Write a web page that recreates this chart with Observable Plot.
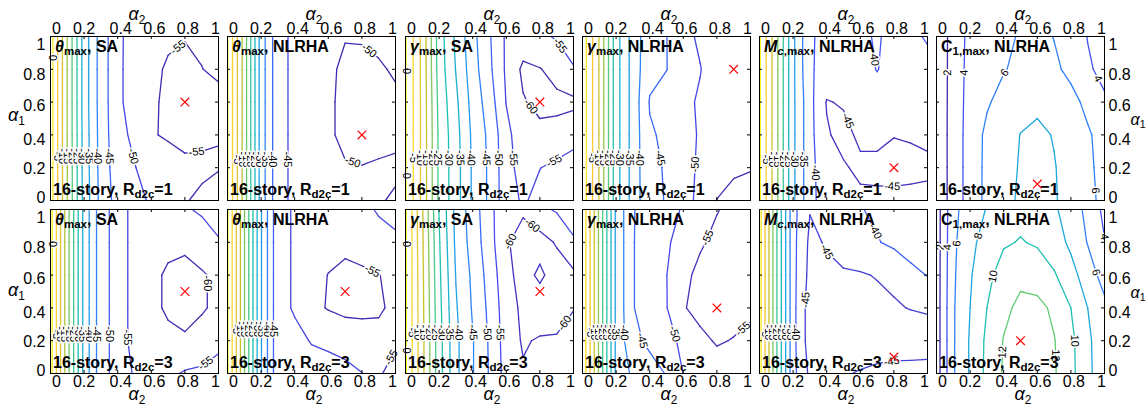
<!DOCTYPE html>
<html>
<head>
<meta charset="utf-8">
<script src="https://cdn.jsdelivr.net/npm/d3@7"></script>
<script src="https://cdn.jsdelivr.net/npm/@observablehq/plot@0.6"></script>
<style>
  html, body { margin: 0; padding: 0; background: #fff; }
  #fig { position: relative; width: 1146px; height: 408px; overflow: hidden;
         font-family: "Liberation Sans", Arial, Helvetica, sans-serif; color: #000; }
  .panel { position: absolute; }
  .txt { position: absolute; white-space: nowrap; font-size: 16px; line-height: 16px; font-weight: bold; }
  .sub { font-size: 0.72em; vertical-align: -0.3em; }
  .ax { position: absolute; white-space: nowrap; font-size: 18px; line-height: 8px; }
  .ax.narrow { font-size: 16px; }
  .ax .s { font-size: 0.66em; vertical-align: -0.3em; font-style: normal; }
</style>
</head>
<body>
<div id="fig"></div>
<script>
// ---- grid coordinates shared by every panel ----
const a2 = [0, 0.1, 0.2, 0.3, 0.4, 0.5, 0.6, 0.7, 0.8, 0.9, 1];
const a1 = [1, 0.8, 0.6, 0.4, 0.2, 0];           // grid rows are listed from alpha1 = 1 down to 0
const tickVals = [0, 0.2, 0.4, 0.6, 0.8, 1];

// ---- response surfaces (percent change), 16-story frame ----
const thetaSA_R1 = [
  [2.5, -15.1, -32.3, -42.2, -48.7, -52.6, -54.0, -54.6, -54.9, -54.6, -54.2],
  [2.5, -15.1, -32.3, -42.2, -48.7, -52.8, -54.4, -55.3, -55.5, -55.05, -54.5],
  [2.5, -15.1, -32.3, -42.2, -48.7, -52.8, -54.5, -55.6, -56.2, -56.0, -55.8],
  [2.5, -15.1, -32.1, -42.0, -48.5, -51.0, -54.8, -55.3, -55.5, -55.3, -55.05],
  [2.5, -15.0, -32.0, -41.8, -47.8, -49.8, -52.0, -53.8, -54.6, -54.7, -54.9],
  [2.5, -15.0, -31.8, -41.5, -47.0, -48.8, -50.5, -53.0, -54.9, -55.3, -55.8]
];
const thetaNL_R1 = [
  [5.3, -12.3, -32.3, -43.5, -46.0, -48.0, -49.5, -49.9, -49.8, -49.6, -49.4],
  [5.3, -12.3, -32.3, -43.5, -46.0, -48.0, -49.6, -50.4, -50.6, -50.2, -49.8],
  [5.3, -12.3, -32.3, -43.5, -46.0, -48.0, -49.6, -50.6, -51.0, -50.6, -50.3],
  [5.3, -12.3, -32.3, -43.5, -46.0, -48.0, -49.6, -50.6, -51.2, -50.8, -50.5],
  [5.3, -12.3, -32.3, -43.5, -46.0, -48.0, -49.3, -49.8, -49.9, -49.7, -49.6],
  [5.3, -12.3, -32.3, -43.5, -46.0, -48.0, -49.0, -49.4, -49.6, -49.8, -50.3]
];
const gammaSA_R1 = [
  [0.4, -11.5, -27.5, -36.0, -43.5, -49.5, -55.8, -57.0, -56.0, -54.5, -53.0],
  [0.4, -11.4, -27.2, -35.2, -42.8, -49.0, -55.8, -61.0, -60.2, -58.5, -55.3],
  [0.4, -11.3, -26.5, -34.0, -41.8, -47.5, -55.2, -59.6, -61.2, -61.0, -61.0],
  [0.4, -11.3, -26.0, -33.2, -41.0, -46.2, -53.5, -58.3, -58.8, -58.6, -57.0],
  [0.4, -11.3, -26.0, -32.9, -40.7, -45.9, -53.2, -57.0, -55.1, -53.8, -52.5],
  [0.4, -11.3, -26.0, -32.9, -40.7, -45.9, -53.0, -55.6, -53.5, -52.3, -51.5]
];
const gammaNL_R1 = [
  [3, -10.3, -28, -37, -43.5, -44.9, -48.5, -50.8, -51.8, -52.3, -52.0],
  [3, -10.3, -28, -37, -43.8, -44.9, -47.5, -49.8, -52.5, -53.5, -53.0],
  [3, -10.3, -28, -37, -45.3, -47.0, -48.8, -50.6, -52.5, -53.0, -52.8],
  [3, -10.3, -28, -37, -44.5, -45.8, -48.5, -50.4, -52.0, -52.8, -53.2],
  [3, -10.3, -28, -37, -44.2, -45.3, -48.6, -50.6, -53.0, -54.5, -54.8],
  [3, -10.3, -28, -37, -44.0, -45.2, -48.8, -50.8, -55.1, -56.0, -56.5]
];
const mcNL_R1 = [
  [0.7, -13.6, -29, -39.5, -41.2, -42.5, -41.0, -39.5, -41.5, -41.0, -39.5],
  [0.7, -13.6, -29, -39.5, -41.5, -43.0, -42.0, -39.8, -42.0, -42.0, -41.5],
  [0.7, -13.6, -29, -38.5, -45.3, -44.5, -43.5, -42.5, -42.8, -42.5, -42.0],
  [0.7, -13.6, -29, -38.5, -44.5, -46.5, -44.0, -43.5, -44.8, -44.5, -44.0],
  [0.7, -13.6, -29, -38.5, -43.0, -44.5, -46.0, -46.5, -47.0, -46.5, -46.0],
  [0.7, -13.6, -29, -38.5, -42.5, -43.5, -44.0, -43.8, -43.5, -43.5, -43.5]
];
const c1NL_R1 = [
  [0.67, 2.70, 4.6, 5.0, 5.5, 6.2, 6.5, 5.95, 5.0, 3.95, 3.5],
  [0.67, 2.72, 4.7, 5.3, 5.9, 6.4, 6.6, 6.3, 5.6, 4.2, 3.6],
  [0.67, 2.75, 4.8, 5.8, 6.6, 7.2, 7.6, 7.2, 6.5, 5.6, 4.2],
  [0.67, 2.77, 4.9, 6.4, 7.0, 8.05, 8.4, 7.9, 7.2, 6.2, 5.4],
  [0.67, 2.77, 4.9, 6.45, 7.1, 8.2, 8.7, 8.1, 7.3, 6.3, 5.5],
  [0.67, 2.77, 4.9, 6.47, 7.2, 8.4, 8.8, 8.15, 7.4, 6.4, 5.6]
];
const thetaSA_R3 = [
  [2, -18, -36.5, -48, -52, -57, -57.5, -57.0, -55.6, -54.2, -53.5],
  [2, -18, -36.5, -48, -52, -57, -58.5, -59.0, -59.2, -58.0, -55.3],
  [2, -18, -36.5, -48, -52, -57, -59.0, -60.6, -61.2, -60.4, -59.2],
  [2, -18, -36.5, -48, -52, -57, -59.0, -60.6, -61.3, -60.4, -59.2],
  [2, -18, -36.5, -48, -52, -57, -58.0, -59.0, -59.5, -58.5, -56.0],
  [2, -18, -36.5, -48, -52, -55.5, -56.5, -56.0, -54.5, -54.0, -53.5]
];
const thetaNL_R3 = [
  [5.7, -14.7, -34.7, -48.7, -50.4, -51.5, -52.5, -52.5, -51.0, -49.6, -49.0],
  [5.7, -14.7, -34.7, -48.7, -50.4, -52.0, -53.5, -54.0, -53.0, -51.5, -50.6],
  [5.7, -14.7, -34.7, -48.7, -50.4, -53.5, -55.1, -56.0, -55.8, -55.1, -54.0],
  [5.7, -14.7, -34.7, -48.7, -50.4, -53.8, -55.3, -56.2, -56.0, -55.3, -54.5],
  [5.7, -14.7, -34.7, -48.7, -49.0, -50.2, -51.0, -52.0, -53.0, -54.3, -54.6],
  [5.7, -14.7, -34.7, -48.7, -48.9, -48.5, -48.0, -48.5, -49.9, -54.7, -56.0]
];
const gammaSA_R3 = [
  [0.7, -14.5, -30.2, -41.5, -47.5, -53.5, -59.0, -59.5, -56.0, -54.5, -53.0],
  [0.7, -14.3, -29.5, -41.0, -47.0, -53.0, -59.6, -61.5, -62.0, -59.5, -55.5],
  [0.7, -14.0, -29.0, -40.2, -46.0, -52.0, -58.5, -62.0, -59.0, -62.5, -61.0],
  [0.7, -13.8, -28.5, -39.5, -45.5, -51.2, -57.8, -61.0, -63.0, -62.0, -60.2],
  [0.7, -13.6, -27.9, -38.9, -44.7, -50.6, -57.4, -60.5, -59.5, -59.5, -58.0],
  [0.7, -13.6, -27.9, -38.9, -44.7, -50.4, -57.0, -59.5, -58.5, -57.5, -56.5]
];
const gammaNL_R3 = [
  [4, -16, -36, -44.8, -46.5, -48.0, -50.5, -52.5, -54.8, -56.0, -56.5],
  [4, -16, -36, -44.8, -47.0, -49.5, -51.5, -54.5, -56.0, -56.5, -56.5],
  [4, -16, -36, -44.8, -47.0, -49.9, -54.0, -56.0, -57.0, -56.8, -56.0],
  [4, -16, -36, -44.8, -47.0, -49.8, -54.7, -56.3, -57.2, -56.5, -55.6],
  [4, -16, -36, -44.0, -45.8, -48.5, -51.0, -54.0, -55.4, -54.8, -54.2],
  [4, -16, -36, -41.0, -43.5, -45.2, -50.1, -52.0, -53.0, -52.5, -52.0]
];
const mcNL_R3 = [
  [2.1, -19.3, -38.5, -44.8, -44.0, -42.5, -40.3, -39.0, -38.5, -38.0, -38.0],
  [2.1, -19.3, -38.5, -46.0, -44.6, -43.5, -42.5, -40.3, -39.0, -37.5, -38.5],
  [2.1, -19.3, -38.5, -46.5, -46.0, -45.4, -45.3, -44.8, -44.0, -41.5, -39.8],
  [2.1, -19.3, -38.5, -47.5, -47.8, -47.5, -47.0, -46.0, -45.5, -44.8, -44.5],
  [2.1, -19.3, -38.5, -47.5, -48.0, -48.5, -48.8, -48.5, -49.0, -48.0, -47.0],
  [2.1, -19.3, -38.5, -46.0, -46.5, -45.5, -44.5, -43.5, -42.5, -43.0, -43.5]
];
const c1NL_R3 = [
  [1.0, 5.5, 7.0, 8.1, 9.0, 9.5, 9.2, 8.3, 7.0, 5.5, 3.5],
  [1.0, 5.6, 7.5, 8.8, 9.8, 10.1, 9.8, 8.9, 7.6, 5.9, 4.1],
  [1.0, 5.7, 7.8, 9.5, 10.8, 11.5, 11.0, 10.2, 8.7, 7.0, 5.2],
  [1.0, 5.8, 8.0, 10.0, 11.5, 12.5, 12.6, 11.6, 10.0, 8.0, 6.5],
  [1.0, 5.8, 8.2, 10.4, 12.1, 13.0, 13.1, 12.1, 10.5, 8.3, 7.0],
  [1.0, 5.8, 8.2, 10.5, 12.2, 13.2, 13.2, 12.2, 10.6, 8.3, 7.2]
];

// optimum (x marker) of each surface
const optA2 = [0.8, 0.8, 0.8, 0.9, 0.8, 0.6, 0.8, 0.7, 0.8, 0.8, 0.8, 0.5];
const optA1 = [0.6, 0.4, 0.6, 0.8, 0.2, 0.1, 0.5, 0.5, 0.5, 0.4, 0.1, 0.2];

// panel headings
const quantity = ["θ", "θ", "γ", "γ", "M", "C"];
const quantitySub = ["max", "max", "max", "max", "<i>c</i>,max", "1,max"];
const italicSymbol = [true, true, true, true, true, false];
const method = ["SA", "NLRHA", "SA", "NLRHA", "NLRHA", "NLRHA"];
const stories = 16;
const rd2c = [1, 3];

const grids = [thetaSA_R1, thetaNL_R1, gammaSA_R1, gammaNL_R1, mcNL_R1, c1NL_R1,
               thetaSA_R3, thetaNL_R3, gammaSA_R3, gammaNL_R3, mcNL_R3, c1NL_R3];

// ---- drawing style ----
const levelStep = [5, 5, 5, 5, 5, 2];
const c1ColorLimits = [1.8, 17.8];
const parula = ["#3e26a8", "#484cf0", "#327cfc", "#20a5e3", "#19bfb6", "#57cc7a", "#c5c22a", "#fec934", "#f9fb15"];
const parulaInterp = d3.piecewise(d3.interpolateRgb, parula);

const W = 168, H = 164;
const ML = 50, MR = 46, MT = 36, MB = 36;
const frameLeft = [50, 227, 405, 582, 759, 936];
const frameTop = [36, 209];
// small nudges of the tick labels (pixels), in tickVals order
const xLabelShift = [6, 0, 3, 3, 3, -3];
const yLabelShift = [-3, 1, 5, 4, 6, 8];

// label placement: row used for the crowded left-hand labels, and [level, a2, a1] hints for the rest
const clusterRow = [0.27, 0.25, 0.26, 0.26, 0.25, null, 0.24, 0.27, 0.25, 0.25, 0.25, null];
const clusterSpan = [[-5, -50], [-5, -45], [-5, -55], [-5, -45], [-5, -35], null,
                     [-5, -50], [-5, -45], [-5, -55], [-5, -40], [-5, -40], null];
const labelHints = [
  [[0, 0.01, 0.87], [-55, 0.77, 0.92], [-55, 0.87, 0.29]],
  [[-50, 0.84, 0.91], [-50, 0.74, 0.22]],
  [[0, 0, 0.79], [0, 0, 0.15], [-55, 0.87, 0.91], [-60, 0.74, 0.57], [-55, 0.87, 0.27]],
  [[-50, 0.667, 0.22]],
  [[-40, 0.35, 0.17], [-40, 0.69, 0.87], [-45, 0.51, 0.48], [-45, 0.79, 0.08]],
  [[2, 0.065, 0.78], [4, 0.165, 0.78], [6, 0.39, 0.79], [4, 0.935, 0.73], [6, 0.94, 0.06]],
  [[0, 0.01, 0.79], [-55, 0.47, 0.22], [-60, 0.92, 0.55], [-55, 0.89, 0.11]],
  [[-55, 0.83, 0.56], [-55, 0.97, 0.10]],
  [[0, 0, 0.79], [0, 0, 0.14], [-60, 0.615, 0.81], [-60, 0.724, 0.864], [-60, 0.883, 0.355]],
  [[-45, 0.345, 0.2], [-50, 0.544, 0.24], [-55, 0.762, 0.82], [-55, 0.94, 0.29]],
  [[-45, 0.25, 0.45], [-45, 0.38, 0.73], [-40, 0.665, 0.855], [-45, 0.794, 0.03]],
  [[2, 0.054, 0.77], [4, 0.093, 0.77], [6, 0.17, 0.79], [8, 0.28, 0.83], [10, 0.35, 0.59],
   [12, 0.38, 0.13], [10, 0.83, 0.2], [12, 0.72, 0.11], [6, 0.897, 0.6], [4, 0.946, 0.78]]
];

// marching squares on the grid -> straight contour segments in data units
function contourSegments(z, levels) {
  const segs = [];
  for (const L of levels) {
    const val = (r, c) => (z[r][c] === L ? L + 1e-6 : z[r][c]);
    for (let r = 0; r < a1.length - 1; r++) {
      for (let c = 0; c < a2.length - 1; c++) {
        const k = [
          [a2[c], a1[r + 1], val(r + 1, c)],
          [a2[c + 1], a1[r + 1], val(r + 1, c + 1)],
          [a2[c + 1], a1[r], val(r, c + 1)],
          [a2[c], a1[r], val(r, c)]
        ];
        const cut = [null, null, null, null];
        let n = 0;
        for (let e = 0; e < 4; e++) {
          const p = k[e], q = k[(e + 1) % 4];
          if ((p[2] > L) !== (q[2] > L)) {
            const t = (L - p[2]) / (q[2] - p[2]);
            cut[e] = [p[0] + t * (q[0] - p[0]), p[1] + t * (q[1] - p[1])];
            n++;
          }
        }
        const add = (u, v) => segs.push({x1: u[0], y1: u[1], x2: v[0], y2: v[1], level: L});
        if (n === 2) {
          const es = [0, 1, 2, 3].filter(e => cut[e]);
          add(cut[es[0]], cut[es[1]]);
        } else if (n === 4) {
          const mid = (k[0][2] + k[1][2] + k[2][2] + k[3][2]) / 4 > L;
          for (let e = 0; e < 4; e++) if ((k[e][2] > L) !== mid) add(cut[e], cut[(e + 3) % 4]);
        }
      }
    }
  }
  return segs;
}

function upright(a) { while (a > 90) a -= 180; while (a <= -90) a += 180; return a; }
function segAngle(s) { return Math.atan2(-(s.y2 - s.y1) * H, (s.x2 - s.x1) * W) * 180 / Math.PI; }

function nearestOn(segs, L, hx, hy) {
  let best = null;
  for (const s of segs) {
    if (s.level !== L) continue;
    const ax = s.x1 * W, ay = -s.y1 * H, bx = s.x2 * W, by = -s.y2 * H;
    const px = hx * W, py = -hy * H;
    const dx = bx - ax, dy = by - ay, len2 = dx * dx + dy * dy;
    if (len2 === 0) continue;
    const t = Math.max(0, Math.min(1, ((px - ax) * dx + (py - ay) * dy) / len2));
    const qx = ax + t * dx, qy = ay + t * dy;
    const d = Math.hypot(qx - px, qy - py);
    if (!best || d < best.d) best = {d, x: qx / W, y: -qy / H, angle: segAngle(s)};
  }
  return best;
}

function rowCrossing(segs, L, row) {
  let best = null;
  for (const s of segs) {
    if (s.level !== L || s.y1 === s.y2) continue;
    if ((s.y1 - row) * (s.y2 - row) > 0) continue;
    const x = s.x1 + (row - s.y1) / (s.y2 - s.y1) * (s.x2 - s.x1);
    if (!best || x < best.x) best = {x, y: row, angle: segAngle(s)};
  }
  return best;
}

const fig = document.getElementById("fig");
const fmt = d => String(d);

grids.forEach((z, idx) => {
  const row = idx < 6 ? 0 : 1, col = idx % 6;
  const [zmin, zmax] = d3.extent(z.flat());
  const step = levelStep[col];
  const levels = d3.range(Math.ceil(zmin / step) * step, zmax, step);
  const segs = contourSegments(z, levels);
  const clim = col === 5 ? c1ColorLimits : [zmin, zmax];

  // contour labels
  const labels = [];
  if (clusterRow[idx] != null) {
    const [hi, lo] = clusterSpan[idx];
    for (let L = hi; L >= lo; L -= step) {
      const p = rowCrossing(segs, L, clusterRow[idx]);
      if (p) labels.push({x: p.x, y: p.y, text: String(L), rotate: upright(p.angle)});
    }
  }
  for (const [L, hx, hy] of labelHints[idx]) {
    const p = nearestOn(segs, L, hx, hy);
    if (p && p.d < 18) labels.push({x: p.x, y: p.y, text: String(L), rotate: upright(p.angle)});
  }

  const marks = [
    Plot.link(segs, {x1: "x1", y1: "y1", x2: "x2", y2: "y2", stroke: "level",
                     strokeWidth: 1.3, strokeLinecap: "round"}),
    Plot.text(labels, {x: "x", y: "y", text: "text", rotate: "rotate", fontSize: 11,
                       fill: "#000", stroke: "#fff", strokeWidth: 3}),
    Plot.dot([{x: optA2[idx], y: optA1[idx]}], {x: "x", y: "y", symbol: "times",
                       stroke: "#ff0000", r: 4, strokeWidth: 1.2}),
    // inward tick marks on all four sides
    Plot.tickX(tickVals, {x: d => d, insetTop: H - 3, stroke: "#000"}),
    Plot.tickX(tickVals, {x: d => d, insetBottom: H - 3, stroke: "#000"}),
    Plot.tickY(tickVals, {y: d => d, insetRight: W - 3, stroke: "#000"}),
    Plot.tickY(tickVals, {y: d => d, insetLeft: W - 3, stroke: "#000"}),
    Plot.frame({stroke: "#000", strokeWidth: 1})
  ];
  tickVals.forEach((v, i) => {
    const common = {tickSize: 0, fontSize: 16, tickFormat: fmt};
    if (row === 0) marks.push(Plot.axisX([v], {...common, anchor: "top", tickPadding: 3, dx: xLabelShift[i]}));
    if (row === 1) marks.push(Plot.axisX([v], {...common, anchor: "bottom", tickPadding: 2, dx: xLabelShift[i]}));
    if (col === 0) marks.push(Plot.axisY([v], {...common, anchor: "left", tickPadding: 5, dy: yLabelShift[i]}));
    if (col === 5) marks.push(Plot.axisY([v], {...common, anchor: "right", tickPadding: 4, dy: yLabelShift[i]}));
  });

  const svg = Plot.plot({
    width: W + ML + MR, height: H + MT + MB,
    marginLeft: ML, marginRight: MR, marginTop: MT, marginBottom: MB,
    x: {domain: [0, 1], axis: null},
    y: {domain: [0, 1], axis: null},
    color: {type: "linear", domain: clim, interpolate: parulaInterp, clamp: true},
    style: {background: "transparent", overflow: "visible",
            fontFamily: "'Liberation Sans', Arial, Helvetica, sans-serif", fontSize: "16px", color: "#000"},
    marks
  });
  const holder = document.createElement("div");
  holder.className = "panel";
  holder.style.left = (frameLeft[col] - ML) + "px";
  holder.style.top = (frameTop[row] - MT) + "px";
  holder.style.width = (W + ML + MR) + "px";
  holder.appendChild(svg);
  fig.appendChild(holder);

  // panel heading and case note
  const sym = italicSymbol[col] ? `<i>${quantity[col]}</i>` : quantity[col];
  const title = document.createElement("div");
  title.className = "txt";
  title.style.left = (frameLeft[col] + 5) + "px";
  title.style.top = (frameTop[row] + 2.5) + "px";
  title.innerHTML = `${sym}<span class="sub">${quantitySub[col]}</span>, ${method[col]}`;
  fig.appendChild(title);

  const note = document.createElement("div");
  note.className = "txt";
  note.style.left = (frameLeft[col] + 3) + "px";
  note.style.top = (frameTop[row] + H - 18.5) + "px";
  note.innerHTML = `${stories}-story, R<span class="sub">d2c</span>=${rd2c[row]}`;
  fig.appendChild(note);
});

// axis titles (8px line box; the alpha baseline sits about 10px below its top)
function axisTitle(html, left, top, center, extraClass) {
  const d = document.createElement("div");
  d.className = "ax" + (extraClass ? " " + extraClass : "");
  d.style.left = left + "px";
  d.style.top = top + "px";
  if (center) d.style.transform = "translateX(-50%)";
  d.innerHTML = html;
  fig.appendChild(d);
}
frameLeft.forEach(x0 => {
  axisTitle(`<i>α</i><span class="s">2</span>`, x0 + W / 2 + 3, 10, true);
  axisTitle(`<i>α</i><span class="s">2</span>`, x0 + W / 2 + 3, 390, true);
});
axisTitle(`<i>α</i><span class="s">1</span>`, 8, 111, false);
axisTitle(`<i>α</i><span class="s">1</span>`, 8, 286, false);
axisTitle(`<i>α</i><span class="s">1</span>`, 1130.5, 116, false, "narrow");
axisTitle(`<i>α</i><span class="s">1</span>`, 1130.5, 289, false, "narrow");
</script>
</body>
</html>
